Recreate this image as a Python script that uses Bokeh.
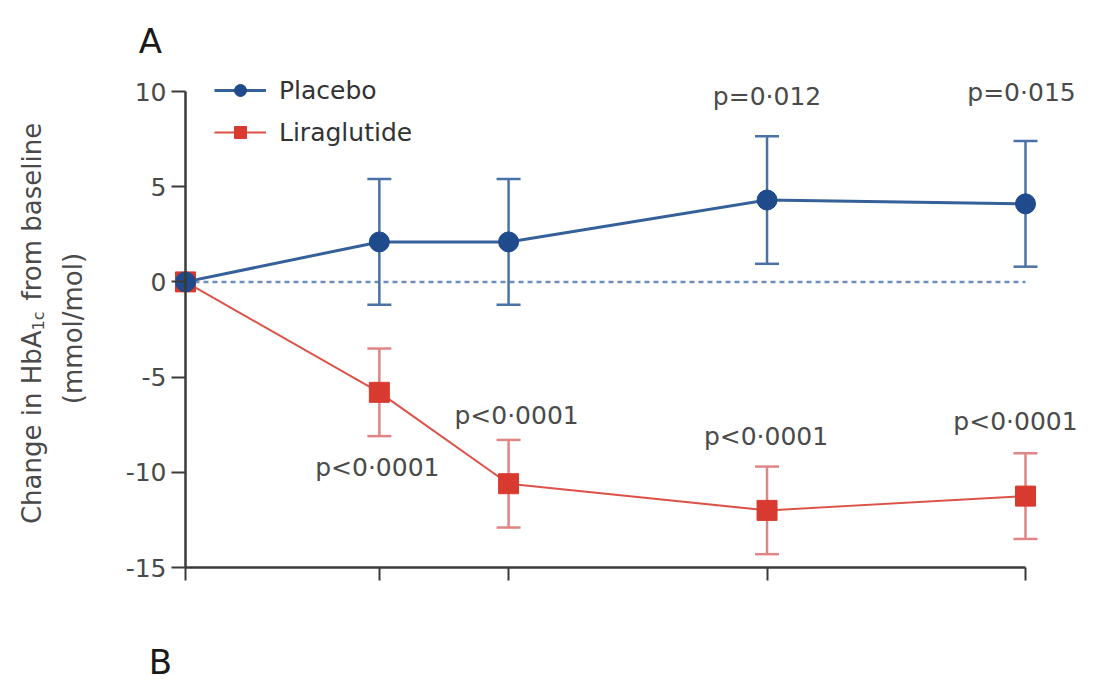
import math
from bokeh.plotting import figure
from bokeh.models import (Range1d, FixedTicker, ColumnDataSource, Legend,
                          LegendItem, Label, LinearAxis)
from bokeh.core.properties import value
from bokeh.embed import file_html
from bokeh.resources import INLINE

# ---------------- data ----------------
weeks = [0, 12, 20, 36, 52]
placebo_mean = [0.0, 2.1, 2.1, 4.3, 4.1]
placebo_err = [0.0, 3.3, 3.3, 3.35, 3.3]
lira_mean = [0.0, -5.8, -10.6, -12.0, -11.25]
lira_err = [0.0, 2.3, 2.3, 2.3, 2.25]
placebo_p = ["", "", "", "p=0·012", "p=0·015"]
lira_p = ["", "p<0·0001", "p<0·0001", "p<0·0001", "p<0·0001"]
y_ticks = [-15, -10, -5, 0, 5, 10]

# ---------------- layout constants (pixels) ----------------
W, H = 1097, 683
X0_PX, XEND_PX = 185, 1025          # x = 0 and x = 52
Y10_PX, YM15_PX = 91, 567           # y = 10 and y = -15
KX = (XEND_PX - X0_PX) / (weeks[-1] - weeks[0])
KY = (YM15_PX - Y10_PX) / 25.0
Y0_PX = Y10_PX + 10 * KY

def dx(px):
    return (px - X0_PX) / KX

def dy(py):
    return (Y0_PX - py) / KY

FONT = "DejaVu Sans"
TXT = "#4a4a4a"
BLUE_M = "#1f4a8c"
BLUE_L = "#35609a"
BLUE_E = "#4a72a6"
RED_M = "#d93a30"
RED_L = "#dc5248"
RED_E = "#e08585"

# the plotting frame covers the whole canvas so that nothing gets clipped
p = figure(width=W, height=H,
           x_range=Range1d(dx(0), dx(W)),
           y_range=Range1d(dy(H), dy(0)),
           output_backend="svg", toolbar_location=None,
           x_axis_type=None, y_axis_type=None,
           min_border_left=0, min_border_right=0,
           min_border_top=0, min_border_bottom=0)
p.min_border = 0
p.outline_line_color = None
p.xgrid.visible = False
p.ygrid.visible = False
p.background_fill_color = "white"
p.border_fill_color = "white"

# axes
yaxis = LinearAxis(fixed_location=0, bounds=(y_ticks[0], y_ticks[-1]),
                   ticker=FixedTicker(ticks=y_ticks),
                   major_label_overrides={t: str(t) for t in y_ticks})
yaxis.axis_line_color = "#3a3a3a"
yaxis.axis_line_width = 2.5
yaxis.major_tick_line_color = "#3a3a3a"
yaxis.major_tick_line_width = 2
yaxis.major_tick_out = 14
yaxis.major_tick_in = 0
yaxis.minor_tick_line_color = None
yaxis.major_label_standoff = 5
yaxis.major_label_text_font = FONT
yaxis.major_label_text_font_size = "25px"
yaxis.major_label_text_color = TXT
p.add_layout(yaxis, "left")

xaxis = LinearAxis(fixed_location=y_ticks[0], bounds=(weeks[0], weeks[-1]),
                   ticker=FixedTicker(ticks=weeks),
                   major_label_overrides={w: "" for w in weeks})
xaxis.axis_line_color = "#3a3a3a"
xaxis.axis_line_width = 2.5
xaxis.major_tick_line_color = "#3a3a3a"
xaxis.major_tick_line_width = 2
xaxis.major_tick_out = 13
xaxis.major_tick_in = 0
xaxis.minor_tick_line_color = None
p.add_layout(xaxis, "below")

# dashed zero reference line
p.line([weeks[0], weeks[-1]], [0, 0], line_color="#6f8fbf", line_width=2.5,
       line_dash="5 4")

# error bars
def err_source(mean, err):
    xs, lo, hi = [], [], []
    for w, m, e in zip(weeks, mean, err):
        if e > 0:
            xs.append(w); lo.append(m - e); hi.append(m + e)
    return ColumnDataSource(dict(x=xs, lo=lo, hi=hi))

pl_err = err_source(placebo_mean, placebo_err)
li_err = err_source(lira_mean, lira_err)
for src, col in ((pl_err, BLUE_E), (li_err, RED_E)):
    p.segment(x0="x", y0="lo", x1="x", y1="hi", source=src,
              line_color=col, line_width=2.5)
    p.scatter(x="x", y="lo", source=src, marker="dash", size=24,
              line_color=col, line_width=2.5)
    p.scatter(x="x", y="hi", source=src, marker="dash", size=24,
              line_color=col, line_width=2.5)

# series lines + markers
pl_src = ColumnDataSource(dict(x=weeks, y=placebo_mean))
li_src = ColumnDataSource(dict(x=weeks, y=lira_mean))
li_line = p.line("x", "y", source=li_src, line_color=RED_L, line_width=2)
pl_line = p.line("x", "y", source=pl_src, line_color=BLUE_L, line_width=3)
li_mk = p.scatter("x", "y", source=li_src, marker="square", size=20,
                  fill_color=RED_M, line_color=RED_M)
pl_mk = p.scatter("x", "y", source=pl_src, marker="circle", size=20,
                  fill_color=BLUE_M, line_color=BLUE_M)

# p-value labels (pixel offsets from the error-bar ends)
pl_off = [None, None, None, (0, -40), (-4, -49)]       # from upper end
li_off = [None, ("lo", -2, 31), ("hi", 8, -24), ("hi", -1, -30), ("hi", -10, -32)]
lx, ly, lt = [], [], []
for w, m, e, t, off in zip(weeks, placebo_mean, placebo_err, placebo_p, pl_off):
    if t and off:
        end_px = Y0_PX - (m + e) * KY
        lx.append(dx(X0_PX + w * KX + off[0])); ly.append(dy(end_px + off[1])); lt.append(t)
for w, m, e, t, off in zip(weeks, lira_mean, lira_err, lira_p, li_off):
    if t and off:
        end = m - e if off[0] == "lo" else m + e
        end_px = Y0_PX - end * KY
        lx.append(dx(X0_PX + w * KX + off[1])); ly.append(dy(end_px + off[2])); lt.append(t)
p.text(x="x", y="y", text="t", source=ColumnDataSource(dict(x=lx, y=ly, t=lt)),
       text_font=value(FONT), text_font_size="25px", text_color=TXT,
       text_align="center", text_baseline="middle")

# legend
legend = Legend(items=[LegendItem(label="Placebo", renderers=[pl_line, pl_mk]),
                       LegendItem(label="Liraglutide", renderers=[li_line, li_mk])],
                location=(214, H - 147),
                glyph_width=52, glyph_height=30, label_height=30,
                spacing=12, padding=0, margin=0, label_standoff=13,
                border_line_color=None, background_fill_alpha=0,
                label_text_font=FONT, label_text_font_size="25px",
                label_text_color="#333333")
p.add_layout(legend)

# y-axis title (rotated, with subscript)
rot = math.pi / 2
p.add_layout(Label(x=dx(31), y=dy(330), text="Change in HbA", angle=rot,
                   text_align="right", text_baseline="middle",
                   text_font=FONT, text_font_size="26px", text_color=TXT))
p.add_layout(Label(x=dx(38), y=dy(330), text="1c", angle=rot,
                   text_align="left", text_baseline="middle",
                   text_font=FONT, text_font_size="16px", text_color=TXT))
p.add_layout(Label(x=dx(31), y=dy(300), text="from baseline", angle=rot,
                   text_align="left", text_baseline="middle",
                   text_font=FONT, text_font_size="26px", text_color=TXT))
p.add_layout(Label(x=dx(72), y=dy(328), text="(mmol/mol)", angle=rot,
                   text_align="center", text_baseline="middle",
                   text_font=FONT, text_font_size="26px", text_color=TXT))

# panel letters
p.add_layout(Label(x=dx(150), y=dy(40), text="A", text_align="center",
                   text_baseline="middle", text_font=FONT,
                   text_font_size="34px", text_color="#1a1a1a"))
p.add_layout(Label(x=dx(160), y=dy(661), text="B", text_align="center",
                   text_baseline="middle", text_font=FONT,
                   text_font_size="34px", text_color="#1a1a1a"))

open("out.html", "w").write(file_html(p, INLINE))
